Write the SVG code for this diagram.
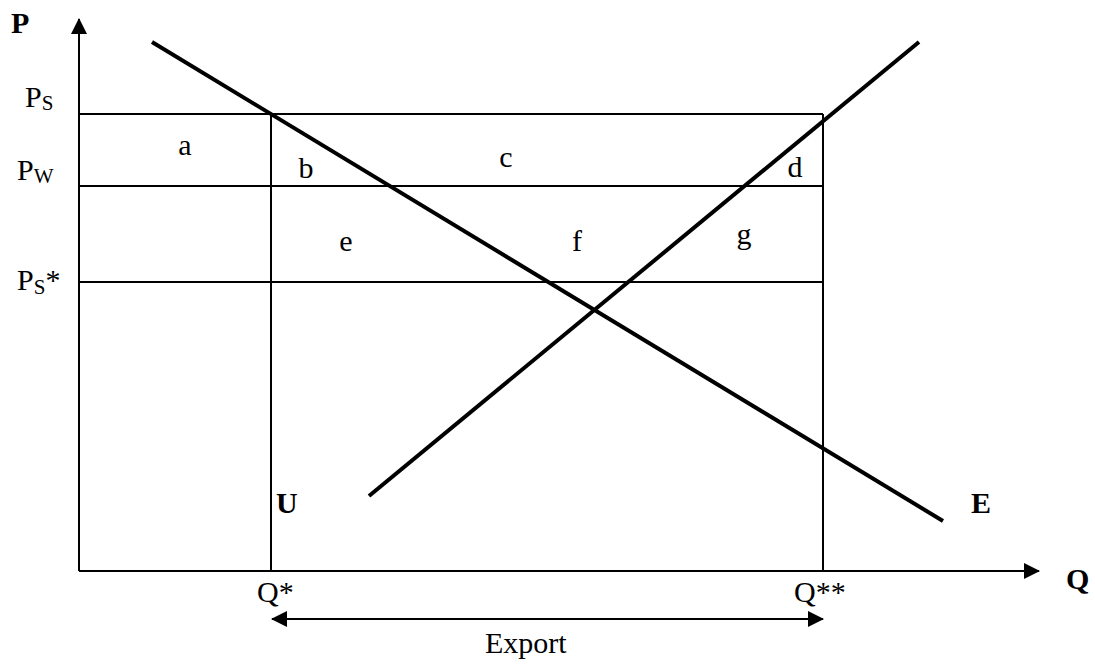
<svg xmlns="http://www.w3.org/2000/svg" width="1095" height="666" viewBox="0 0 1095 666">
<style>
text{font-family:"Liberation Serif","Times New Roman",serif;font-size:30px;fill:#000}
.b{font-weight:bold}
.sub{font-size:21px}
.thin{stroke:#000;stroke-width:2;fill:none}
.thick{stroke:#000;stroke-width:4;fill:none}
</style>
<defs>
<marker id="ah" markerWidth="16" markerHeight="16" refX="15" refY="8" orient="auto-start-reverse" markerUnits="userSpaceOnUse">
<path d="M0,0 L16,8 L0,16 Z" fill="#000"/>
</marker>
</defs>
<g id="connectors">
<line class="thin" x1="79" y1="571" x2="79" y2="19" marker-end="url(#ah)"/>
<line class="thin" x1="79" y1="571" x2="1039" y2="571" marker-end="url(#ah)"/>
<line class="thin" x1="79" y1="114" x2="823" y2="114"/>
<line class="thin" x1="79" y1="186" x2="823" y2="186"/>
<line class="thin" x1="79" y1="282" x2="823" y2="282"/>
<line class="thin" x1="271" y1="114" x2="271" y2="571"/>
<line class="thin" x1="823" y1="114" x2="823" y2="571"/>
<line class="thick" x1="152" y1="42" x2="943" y2="521"/>
<line class="thick" x1="369" y1="496" x2="919" y2="42"/>
<line class="thin" x1="272" y1="619" x2="823" y2="619" marker-start="url(#ah)" marker-end="url(#ah)"/>
</g>
<g id="labels">
<text class="b" x="11" y="33">P</text>
<text x="25" y="107">P<tspan class="sub" dy="3">S</tspan></text>
<text x="17" y="180">P<tspan class="sub" dy="3">W</tspan></text>
<text x="17" y="290">P<tspan class="sub" dy="4">S</tspan><tspan dy="-4">*</tspan></text>
<text x="185" y="155" text-anchor="middle">a</text>
<text x="306" y="178" text-anchor="middle">b</text>
<text x="506" y="167" text-anchor="middle">c</text>
<text x="795" y="177" text-anchor="middle">d</text>
<text x="346" y="251" text-anchor="middle">e</text>
<text x="577" y="251" text-anchor="middle">f</text>
<text x="744" y="244" text-anchor="middle">g</text>
<text class="b" x="276" y="513">U</text>
<text class="b" x="971" y="513">E</text>
<text class="b" x="1066" y="589">Q</text>
<text x="257" y="602">Q*</text>
<text x="794" y="602">Q**</text>
<text x="485" y="653">Export</text>
</g>
</svg>
